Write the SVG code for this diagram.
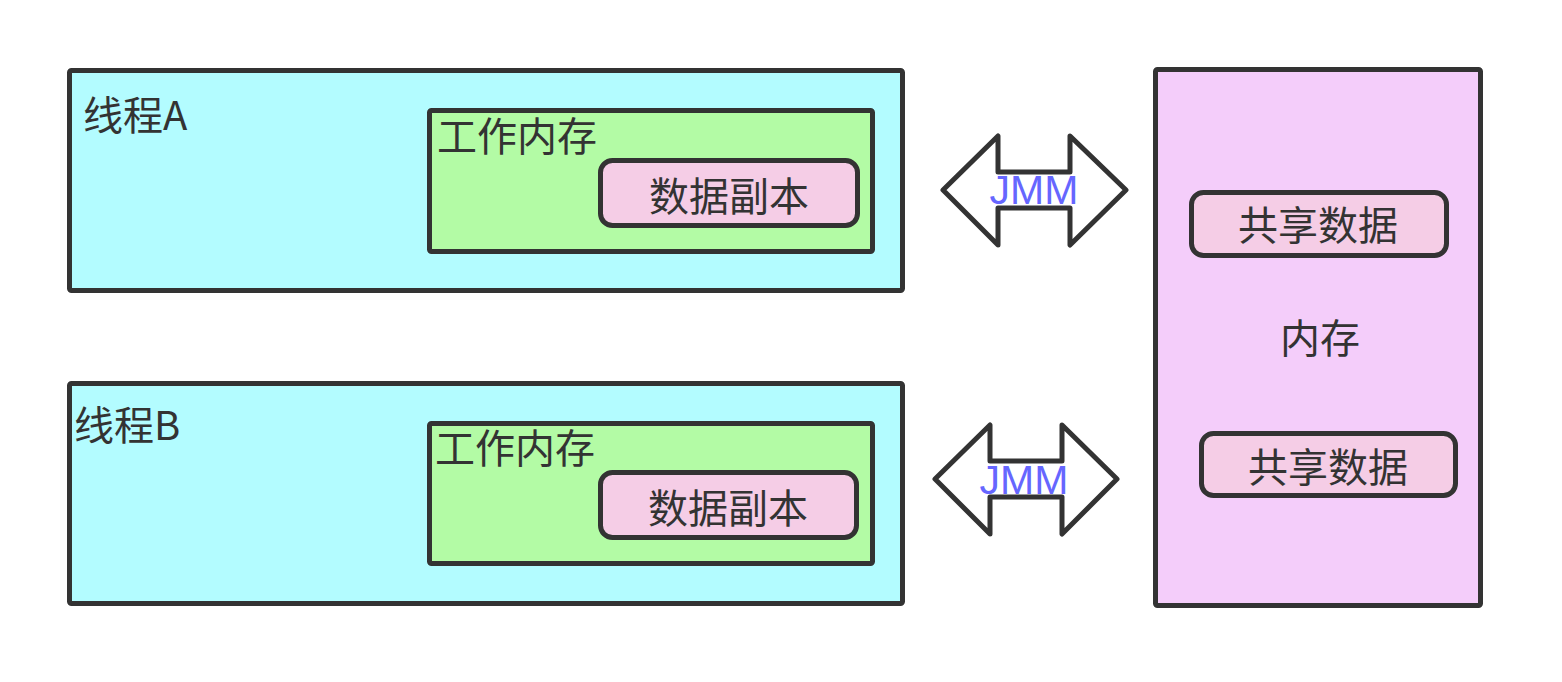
<svg xmlns="http://www.w3.org/2000/svg" width="1562" height="682" viewBox="0 0 1562 682">
<style>
.box{stroke:#333333;stroke-width:5;stroke-linejoin:round}
.thread{fill:#b3fcff}
.work{fill:#b3fba5}
.data{fill:#f5cde6}
.mem{fill:#f4cdfa}
.t{font-family:"Noto Sans CJK SC","Noto Sans",sans-serif;font-size:40px;fill:#333333}
.mid{text-anchor:middle}
.arrow{fill:#ffffff;stroke:#333333;stroke-width:5;stroke-linejoin:round}
.jmm{font-family:"Liberation Sans",Arial,sans-serif;font-size:41px;fill:#6666ff;text-anchor:middle}
</style>
<rect width="1562" height="682" fill="#ffffff"/>
<g id="threadA">
<rect class="box thread" x="69.5" y="70.5" width="833" height="220" rx="2"/>
<text class="t" x="83" y="130">线程A</text>
</g>
<g id="workA">
<rect class="box work" x="429.5" y="110.5" width="443" height="141" rx="2"/>
<text class="t" x="437" y="151">工作内存</text>
</g>
<g id="copyA">
<rect class="box data" x="600.5" y="160.5" width="257" height="65" rx="12"/>
<text class="t mid" x="729" y="211">数据副本</text>
</g>
<g id="threadB">
<rect class="box thread" x="69.5" y="383.5" width="833" height="220" rx="2"/>
<text class="t" x="74" y="440">线程B</text>
</g>
<g id="workB">
<rect class="box work" x="429.5" y="423.5" width="443" height="140" rx="2"/>
<text class="t" x="435" y="463">工作内存</text>
</g>
<g id="copyB">
<rect class="box data" x="600.5" y="472.5" width="256" height="65" rx="12"/>
<text class="t mid" x="728" y="523">数据副本</text>
</g>
<g id="memory">
<rect class="box mem" x="1155.5" y="69.5" width="325" height="536" rx="2"/>
<text class="t mid" x="1320" y="353">内存</text>
</g>
<g id="shared1">
<rect class="box data" x="1191.5" y="192.5" width="255" height="63" rx="12"/>
<text class="t mid" x="1318" y="240">共享数据</text>
</g>
<g id="shared2">
<rect class="box data" x="1201.5" y="433.5" width="254" height="62" rx="12"/>
<text class="t mid" x="1328" y="482">共享数据</text>
</g>
<g id="connectors">
<g id="jmm1">
<polygon class="arrow" points="943,190 998,136 998,172 1070,172 1070,136 1126,190 1070,245 1070,208 998,208 998,245"/>
<text class="jmm" x="1034" y="204">JMM</text>
</g>
<g id="jmm2">
<polygon class="arrow" points="935,479 990,425 990,461 1062,461 1062,425 1117,479 1062,534 1062,497 990,497 990,534"/>
<text class="jmm" x="1024" y="494">JMM</text>
</g>
</g>
</svg>
